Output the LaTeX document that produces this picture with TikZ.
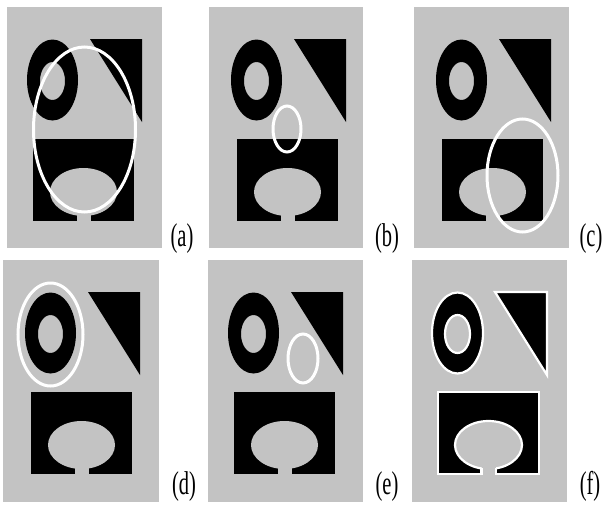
\documentclass[tikz,border=0pt]{standalone}
\usepackage{fontspec}
\setmainfont{Liberation Serif}
\definecolor{bggrey}{RGB}{195,195,195}
\newcommand{\mypanel}[3]{%
  \begin{scope}[shift={(#1,#2)}]
    \path[fill=black, even odd rule, #3] (19.5,41) ellipse [x radius=25.5, y radius=40.5]
         (19.5,42) ellipse [x radius=12.5, y radius=19];
    \path[fill=black, #3] (57,0) -- (109,0) -- (109,83) -- cycle;
    \path[fill=black, #3] (0,100) rectangle (101,182);
    \path[fill=bggrey, #3] (50.5,153) ellipse [x radius=33.5, y radius=24];
    \fill[bggrey] (43.5,165) rectangle (58,184.5);
  \end{scope}}
\begin{document}
\begin{tikzpicture}[x=1pt,y=-1pt]
\tikzset{
  bgpanel/.style={fill=bggrey},
  marker/.style={draw=white, line width=3pt},
  outlined/.style={draw=white, line width=2.2pt},
  panellabel/.style={font=\fontsize{33}{33}\selectfont, anchor=base, inner sep=0pt}
}
\useasboundingbox (0,0) rectangle (608,509);
\fill[white] (0,0) rectangle (608,509);
% backgrounds
\fill[bgpanel] (7,7) rectangle (162,248);
\fill[bgpanel] (209,7) rectangle (363,248);
\fill[bgpanel] (414,7) rectangle (569,248);
\fill[bgpanel] (3,260) rectangle (159,502);
\fill[bgpanel] (208,260) rectangle (363,502);
\fill[bgpanel] (412,260) rectangle (567,502);
% shapes
\mypanel{33}{39}{}
\mypanel{237}{39}{}
\mypanel{442}{39}{}
\mypanel{31}{292}{}
\mypanel{234}{292}{}
\mypanel{438}{292}{outlined}
% notch sides in (f)
\draw[outlined] (438+43.5,292+176) -- (438+43.5,292+183);
\draw[outlined] (438+58,292+176) -- (438+58,292+183);
% white contour ellipses
\draw[marker] (84.5,129.5) ellipse [x radius=51, y radius=82.5];
\draw[marker] (287,129) ellipse [x radius=14, y radius=23];
\draw[marker] (522.5,175.5) ellipse [x radius=35.5, y radius=56.5];
\draw[marker] (50.5,334.5) ellipse [x radius=32.5, y radius=51.5];
\draw[marker] (303,358.5) ellipse [x radius=15, y radius=24.5];
% labels
\node[panellabel] (la) at (182,246) {\scalebox{0.62}[1]{(a)}};
\node[panellabel] (lb) at (387,246) {\scalebox{0.62}[1]{(b)}};
\node[panellabel] (lc) at (591,246) {\scalebox{0.62}[1]{(c)}};
\node[panellabel] (ld) at (184,494) {\scalebox{0.62}[1]{(d)}};
\node[panellabel] (le) at (387,494) {\scalebox{0.62}[1]{(e)}};
\node[panellabel] (lf) at (590,494) {\scalebox{0.62}[1]{(f)}};
\end{tikzpicture}
\end{document}
